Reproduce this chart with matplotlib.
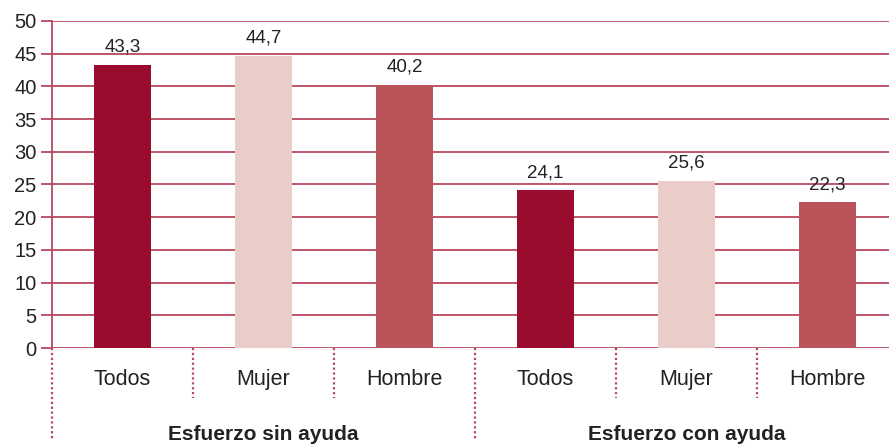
import numpy as np
import matplotlib
matplotlib.use("Agg")
import matplotlib.pyplot as plt
import matplotlib.transforms as mtransforms

plt.rcParams['font.family'] = ['Liberation Sans', 'DejaVu Sans']

groups = ["Esfuerzo sin ayuda", "Esfuerzo con ayuda"]
categories = ["Todos", "Mujer", "Hombre", "Todos", "Mujer", "Hombre"]
values = [43.3, 44.7, 40.2, 24.1, 25.6, 22.3]
value_labels = ["43,3", "44,7", "40,2", "24,1", "25,6", "22,3"]
colors = ["#990c2e", "#eacdc9", "#b8545a"] * 2
line_col = "#b9495f"
text_col = "#222222"

fig = plt.figure(figsize=(8.89, 4.44), dpi=100)
ax = fig.add_axes([52 / 889, 1 - 348 / 444, 1 - 52 / 889, (348 - 21) / 444])

x = np.arange(len(values))
ax.bar(x, values, width=0.40, color=colors, zorder=3)
for xi, v, lab in zip(x, values, value_labels):
    ax.text(xi, v + 1.4, lab, ha="center", va="bottom", fontsize=13.5, color=text_col)

ax.set_ylim(0, 50)
ax.set_xlim(-0.5, -0.5 + 837 / 141)
ax.set_yticks(range(0, 51, 5))
ax.tick_params(axis="y", labelsize=14.5, colors=text_col, length=8, width=1.3, color=line_col, pad=3)
ax.set_xticks([])
for yv in range(0, 51, 5):
    ax.axhline(yv, color=line_col, lw=1.3, zorder=1)

for s in ["top", "right", "bottom"]:
    ax.spines[s].set_visible(False)
ax.spines["left"].set_color(line_col)
ax.spines["left"].set_linewidth(1.3)

trans = mtransforms.blended_transform_factory(ax.transData, ax.transAxes)
axh = (348 - 21) / 444 * 4.44 * 100  # axes height in px
for i in range(len(values)):
    xb = i - 0.5
    long_line = i % 3 == 0
    bottom = -(440 - 348) / axh if long_line else -(398 - 348) / axh
    ax.plot([xb, xb], [0, bottom], transform=trans, clip_on=False,
            color=line_col, lw=1.6, ls=(0, (1, 1.2)))
    ax.text(i, -(379 - 348) / axh, categories[i], transform=trans,
            ha="center", va="center", fontsize=15.5, color=text_col)

for g, name in enumerate(groups):
    ax.text(g * 3 + 1, -(434 - 348) / axh, name, transform=trans,
            ha="center", va="center", fontsize=15, fontweight="bold", color=text_col)

fig.savefig("out.png", dpi=100)
